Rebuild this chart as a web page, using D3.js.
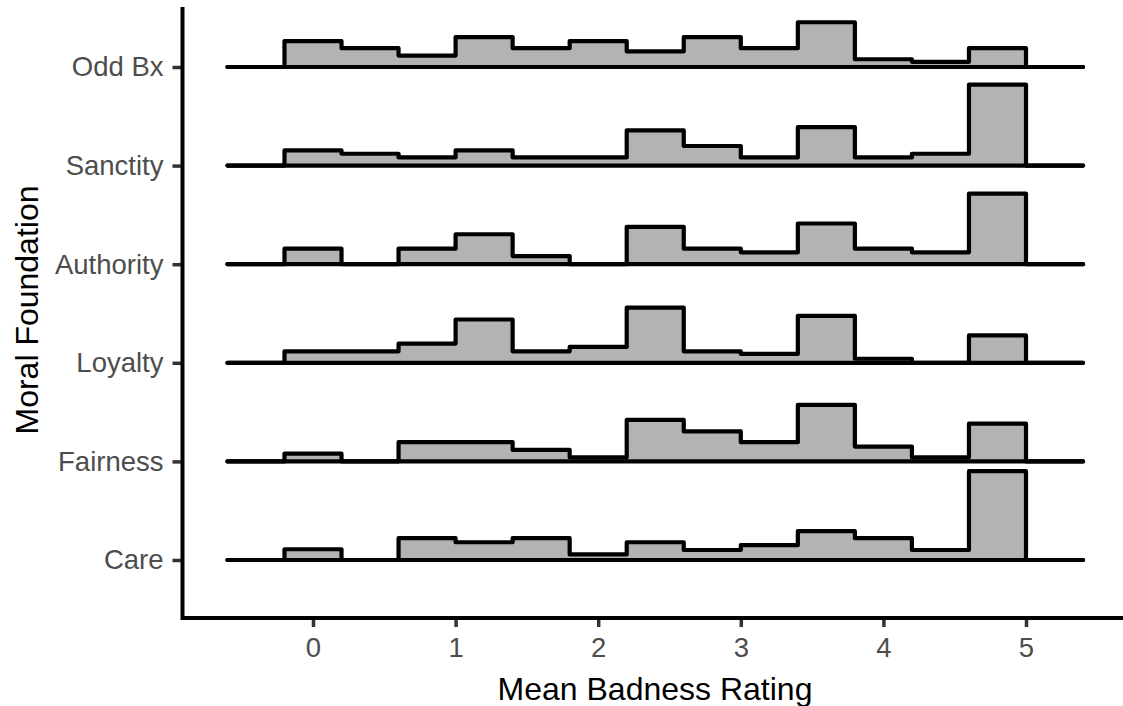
<!DOCTYPE html>
<html>
<head>
<meta charset="utf-8">
<script src="https://cdn.jsdelivr.net/npm/d3@7"></script>
<style>
  html, body { margin: 0; padding: 0; background: #fff; }
  svg { display: block; }
  text { font-family: "Liberation Sans", Arial, Helvetica, sans-serif; }
</style>
</head>
<body>
<svg id="chart" width="1123" height="706"></svg>
<script>
// ---- data ----
const categories = ["Care", "Fairness", "Loyalty", "Authority", "Sanctity", "Odd Bx"];
const binEdges = [-0.2, 0.2, 0.6, 1.0, 1.4, 1.8, 2.2, 2.6, 3.0, 3.4, 3.8, 4.2, 4.6, 5.0];
const xRange = [-0.6, 5.4];
const xTicks = [0, 1, 2, 3, 4, 5];
const careCounts      = [2.9, 0, 5.9, 4.8, 5.9, 1.5, 4.8, 2.7, 4.0, 7.8, 5.9, 2.7, 24.0];
const fairnessCounts  = [2.1, 0, 5.2, 5.2, 3.1, 1.1, 11.2, 8.1, 5.2, 15.3, 4.0, 1.1, 10.2];
const loyaltyCounts   = [3.1, 3.1, 5.2, 11.7, 3.1, 4.3, 14.9, 3.1, 2.4, 12.7, 1.1, 0, 7.4];
const authorityCounts = [4.2, 0, 4.2, 8.1, 2.2, 0, 10.1, 4.2, 3.2, 11.0, 4.2, 3.2, 19.1];
const sanctityCounts  = [4.1, 3.2, 2.2, 4.1, 2.2, 2.2, 9.5, 5.3, 2.2, 10.4, 2.2, 3.2, 21.9];
const oddBxCounts     = [7.0, 5.1, 3.1, 8.1, 5.1, 7.0, 4.2, 8.1, 5.1, 12.1, 2.1, 1.4, 5.1];
const seriesCounts = [careCounts, fairnessCounts, loyaltyCounts, authorityCounts, sanctityCounts, oddBxCounts];
const xTitle = "Mean Badness Rating";
const yTitle = "Moral Foundation";

// ---- layout ----
const svg = d3.select("#chart");
const panelLeft = 182.5, panelBottom = 618, panelTop = 7, panelRight = 1123;

const x = d3.scaleLinear().domain([0, 5]).range([313, 1026]);
const y = d3.scalePoint().domain(categories).range([560, 67]);
const h = d3.scaleLinear().domain([0, 1]).range([0, 3.7]);

// ridges (top first so lower ridges draw over upper)
const ridgeOrder = categories.map((c, i) => i).reverse();
const g = svg.append("g");

ridgeOrder.forEach(i => {
  const cat = categories[i];
  const counts = seriesCounts[i];
  const base = y(cat);
  const bins = counts.map((c, k) => ({x0: binEdges[k], x1: binEdges[k + 1], c}));
  const area = [];
  bins.forEach(b => { area.push([x(b.x0), base - h(b.c)]); area.push([x(b.x1), base - h(b.c)]); });
  const areaPath = d3.line()([[x(binEdges[0]), base], ...area, [x(binEdges[binEdges.length - 1]), base]]) + "Z";
  g.append("path").attr("d", areaPath).attr("fill", "#b3b3b3").attr("stroke", "none");
  const pts = [[x(xRange[0]), base], [x(binEdges[0]), base], ...area,
               [x(binEdges[binEdges.length - 1]), base], [x(xRange[1]), base]];
  g.append("path").attr("d", d3.line()(pts))
    .attr("fill", "none").attr("stroke", "#000").attr("stroke-width", 4.2)
    .attr("stroke-linejoin", "round").attr("stroke-linecap", "round");
  g.append("line").attr("x1", x(xRange[0])).attr("x2", x(xRange[1]))
    .attr("y1", base).attr("y2", base)
    .attr("stroke", "#000").attr("stroke-width", 4.2).attr("stroke-linecap", "round");
});

// axes
const xAxis = d3.axisBottom(x).tickValues(xTicks).tickSize(8).tickPadding(10).tickFormat(d3.format("d"));
const gx = svg.append("g").attr("transform", `translate(0,${panelBottom + 1})`).call(xAxis);
gx.select(".domain").remove();
gx.selectAll(".tick line").attr("stroke", "#333").attr("stroke-width", 3.5);
gx.selectAll(".tick text").attr("fill", "#4d4d4d").style("font-size", "27.5px")
  .attr("font-family", "Liberation Sans, Arial, sans-serif");

const yAxis = d3.axisLeft(y).tickSize(9).tickPadding(9);
const gy = svg.append("g").attr("transform", `translate(${panelLeft - 1},0)`).call(yAxis);
gy.select(".domain").remove();
gy.selectAll(".tick line").attr("stroke", "#333").attr("stroke-width", 3.5);
gy.selectAll(".tick text").attr("fill", "#4d4d4d").style("font-size", "27.5px")
  .attr("font-family", "Liberation Sans, Arial, sans-serif");

// axis lines
svg.append("path")
  .attr("d", `M${panelLeft},${panelTop} L${panelLeft},${panelBottom} L${panelRight},${panelBottom}`)
  .attr("fill", "none").attr("stroke", "#000").attr("stroke-width", 4).attr("stroke-linejoin", "miter");

// titles
svg.append("text").attr("x", 655).attr("y", 700).attr("text-anchor", "middle")
  .style("font-size", "32px").attr("fill", "#000").text(xTitle);
svg.append("text").attr("transform", "translate(38,310) rotate(-90)").attr("text-anchor", "middle")
  .style("font-size", "32px").attr("fill", "#000").text(yTitle);
</script>
</body>
</html>
